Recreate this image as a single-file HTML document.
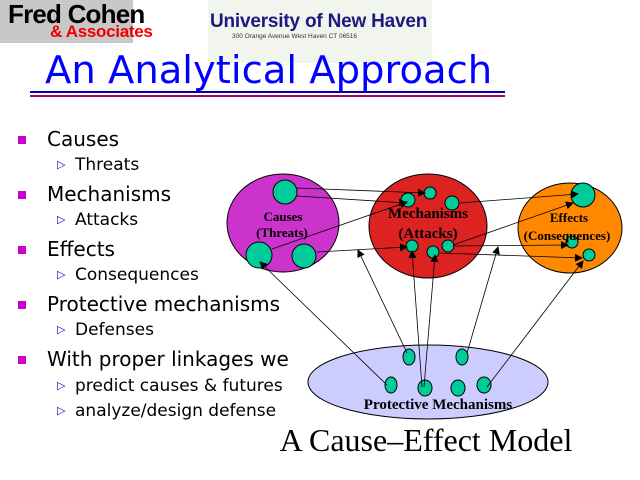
<!DOCTYPE html>
<html><head><style>
body{margin:0;width:640px;height:480px;background:#fff;overflow:hidden;position:relative;font-family:"DejaVu Sans","Liberation Sans",sans-serif}
.a{position:absolute;white-space:nowrap}
.b{font-size:20px;color:#000}
.s{font-size:17px;color:#000}
.sq{position:absolute;width:8px;height:8px;background:#c0c}
.ar{position:absolute;color:#00c;font-size:11px}
</style></head><body>
<div class="a" style="left:0;top:0;width:133px;height:43px;background:#c8c8c8"></div>
<div class="a" style="left:8px;top:-1px;font:bold 26px 'Liberation Sans',sans-serif;color:#000;letter-spacing:-0.8px">Fred Cohen</div>
<div class="a" style="left:50px;top:22px;font:bold 17px 'Liberation Sans',sans-serif;color:#e00;letter-spacing:-0.3px">&amp; Associates</div>
<div class="a" style="left:208px;top:0;width:224px;height:63px;background:#f2f4ee"></div>
<div class="a" style="left:210px;top:11px;font:bold 19px 'Liberation Sans',sans-serif;color:#1a1a80;letter-spacing:-0.2px">University of New Haven</div>
<div class="a" style="left:232px;top:33px;font:6.5px 'Liberation Sans',sans-serif;color:#333">300 Orange Avenue  West Haven CT  06516</div>
<div class="a" style="left:45px;top:48px;font-size:38.5px;color:#00f;font-family:'DejaVu Sans',sans-serif">An Analytical Approach</div>
<div class="a" style="left:30px;top:91px;width:475px;height:2px;background:#00a"></div>
<div class="a" style="left:30px;top:95px;width:475px;height:2px;background:#a06"></div>

<div class="sq" style="left:18px;top:136px"></div><div class="a b" style="left:47px;top:127px">Causes</div>
<div class="ar" style="left:57px;top:158px">&#9655;</div><div class="a s" style="left:75px;top:155px">Threats</div>
<div class="sq" style="left:18px;top:191px"></div><div class="a b" style="left:47px;top:182px">Mechanisms</div>
<div class="ar" style="left:57px;top:213px">&#9655;</div><div class="a s" style="left:75px;top:210px">Attacks</div>
<div class="sq" style="left:18px;top:246px"></div><div class="a b" style="left:47px;top:237px">Effects</div>
<div class="ar" style="left:57px;top:268px">&#9655;</div><div class="a s" style="left:75px;top:265px">Consequences</div>
<div class="sq" style="left:18px;top:301px"></div><div class="a b" style="left:47px;top:292px">Protective mechanisms</div>
<div class="ar" style="left:57px;top:323px">&#9655;</div><div class="a s" style="left:75px;top:320px">Defenses</div>
<div class="sq" style="left:18px;top:356px"></div><div class="a b" style="left:47px;top:347px">With proper linkages we</div>
<div class="ar" style="left:57px;top:379px">&#9655;</div><div class="a s" style="left:75px;top:376px">predict causes &amp; futures</div>
<div class="ar" style="left:57px;top:404px">&#9655;</div><div class="a s" style="left:75px;top:401px">analyze/design defense</div>

<svg class="a" style="left:0;top:0" width="640" height="480">
<defs><marker id="m" markerWidth="8" markerHeight="8" refX="7" refY="4" orient="auto" markerUnits="userSpaceOnUse"><path d="M0,0L8,4L0,8z" fill="#000"/></marker></defs>
<g stroke="#000" stroke-width="1">
<ellipse cx="283" cy="223" rx="56" ry="49" fill="#c3c"/>
<ellipse cx="428" cy="226" rx="59" ry="52" fill="#d22"/>
<ellipse cx="570" cy="228" rx="52" ry="45" fill="#f80"/>
<ellipse cx="428" cy="382" rx="120" ry="37" fill="#ccf"/>
<g fill="#0c9">
<circle cx="285" cy="192" r="12"/><circle cx="259" cy="255" r="13"/><circle cx="304" cy="256" r="12"/>
<circle cx="430" cy="193" r="6"/><circle cx="408" cy="200" r="7"/><circle cx="452" cy="203" r="7"/>
<circle cx="412" cy="246" r="6"/><circle cx="448" cy="246" r="6"/><circle cx="433" cy="252" r="6"/>
<circle cx="583" cy="195" r="12"/><circle cx="572" cy="242" r="6"/><circle cx="589" cy="255" r="6"/>
<ellipse cx="409" cy="357" rx="6" ry="8"/><ellipse cx="462" cy="357" rx="6" ry="8"/>
<ellipse cx="391" cy="385" rx="6" ry="8"/><ellipse cx="425" cy="388" rx="7" ry="8"/>
<ellipse cx="458" cy="388" rx="7" ry="8"/><ellipse cx="484" cy="385" rx="7" ry="8"/>
</g>
</g>
<g stroke="#000" stroke-width="0.8" fill="none" marker-end="url(#m)">
<line x1="297" y1="188" x2="425" y2="193"/>
<line x1="297" y1="196" x2="406" y2="203"/>
<line x1="272" y1="249" x2="407" y2="202"/>
<line x1="317" y1="252" x2="407" y2="247"/>
<line x1="460" y1="203" x2="578" y2="194"/>
<line x1="453" y1="245" x2="573" y2="203"/>
<line x1="453" y1="246" x2="568" y2="245"/>
<line x1="440" y1="253" x2="582" y2="258"/>
<line x1="387" y1="385" x2="260" y2="262"/>
<line x1="407" y1="353" x2="358" y2="250"/>
<line x1="422" y1="387" x2="412" y2="251"/>
<line x1="424" y1="387" x2="435" y2="255"/>
<line x1="467" y1="353" x2="498" y2="247"/>
<line x1="487" y1="387" x2="583" y2="261"/>
</g>
<g font-family="Liberation Serif,serif" font-weight="bold" text-anchor="middle" fill="#000">
<text x="283" y="221" font-size="13">Causes</text>
<text x="282" y="237" font-size="13">(Threats)</text>
<text x="428" y="218" font-size="15">Mechanisms</text>
<text x="428" y="238" font-size="15">(Attacks)</text>
<text x="569" y="222" font-size="13">Effects</text>
<text x="567" y="240" font-size="13">(Consequences)</text>
<text x="438" y="409" font-size="15">Protective Mechanisms</text>
</g>
<text x="426" y="451" text-anchor="middle" font-family="Liberation Serif,serif" font-size="32" fill="#000">A Cause–Effect Model</text>
</svg>
</body></html>
